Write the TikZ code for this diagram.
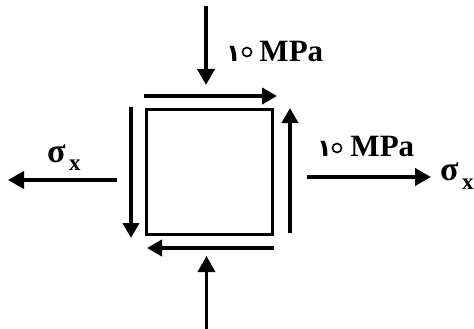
\documentclass[tikz,border=0pt]{standalone}
\usepackage{fontspec}
\setmainfont{Liberation Serif}
\newfontfamily\digitfont[Script=Arabic]{DejaVu Sans}
\usetikzlibrary{arrows.meta}
\tikzset{
  force/.style={line width=3.8pt,-{Triangle[length=16pt,width=17pt]}},
  shear/.style={line width=4.4pt,-{Triangle[length=15pt,width=16pt]}},
  lab/.style={inner sep=0pt,font=\bfseries\fontsize{31}{31}\selectfont,anchor=base west},
  sig/.style={inner sep=0pt,font=\bfseries\fontsize{34}{34}\selectfont,anchor=base west},
  sub/.style={inner sep=0pt,font=\bfseries\fontsize{23}{23}\selectfont,anchor=base west},
  ring/.style={circle,draw,fill=white,line width=1.6pt,minimum size=9pt,inner sep=0pt}
}
\newcommand{\tenMPa}{{\digitfont\fontsize{24}{24}\selectfont ۱۰}\hspace{4pt}MPa}
\begin{document}
\begin{tikzpicture}[x=1pt,y=-1pt]
\useasboundingbox (0,0) rectangle (474,329);
\node[draw,line width=3pt,minimum width=126pt,minimum height=125pt,inner sep=0pt] (sq) at (209.5,171.5) {};
\coordinate (ta) at (206,6);   \coordinate (tb) at (206,85);
\coordinate (ba) at (206.5,329); \coordinate (bb) at (206.5,256);
\coordinate (ra) at (307,177); \coordinate (rb) at (431,177);
\coordinate (la) at (117,180); \coordinate (lb) at (8,180);
\coordinate (sta) at (144,96); \coordinate (stb) at (277,96);
\coordinate (sra) at (290,233); \coordinate (srb) at (290,108);
\coordinate (sla) at (131,107); \coordinate (slb) at (131,238);
\coordinate (sba) at (274,248); \coordinate (sbb) at (147,248);
\draw[force] (ta) -- (tb);
\draw[force] (ba) -- (bb);
\draw[force] (ra) -- (rb);
\draw[force] (la) -- (lb);
\draw[shear] (sta) -- (stb);
\draw[shear] (sra) -- (srb);
\draw[shear] (sla) -- (slb);
\draw[shear] (sba) -- (sbb);
\node[lab] (t1) at (226,61.5) {\tenMPa};
\node[lab] (t2) at (317,156) {\tenMPa};
\node[ring] (r1) at (247,52) {};
\node[ring] (r2) at (337,148) {};
\node[sig] (s1) at (47,162) {σ};
\node[sub] (x1) at (69,170) {x};
\node[sig] (s2) at (440,180) {σ};
\node[sub] (x2) at (462,189) {x};
\end{tikzpicture}
\end{document}
